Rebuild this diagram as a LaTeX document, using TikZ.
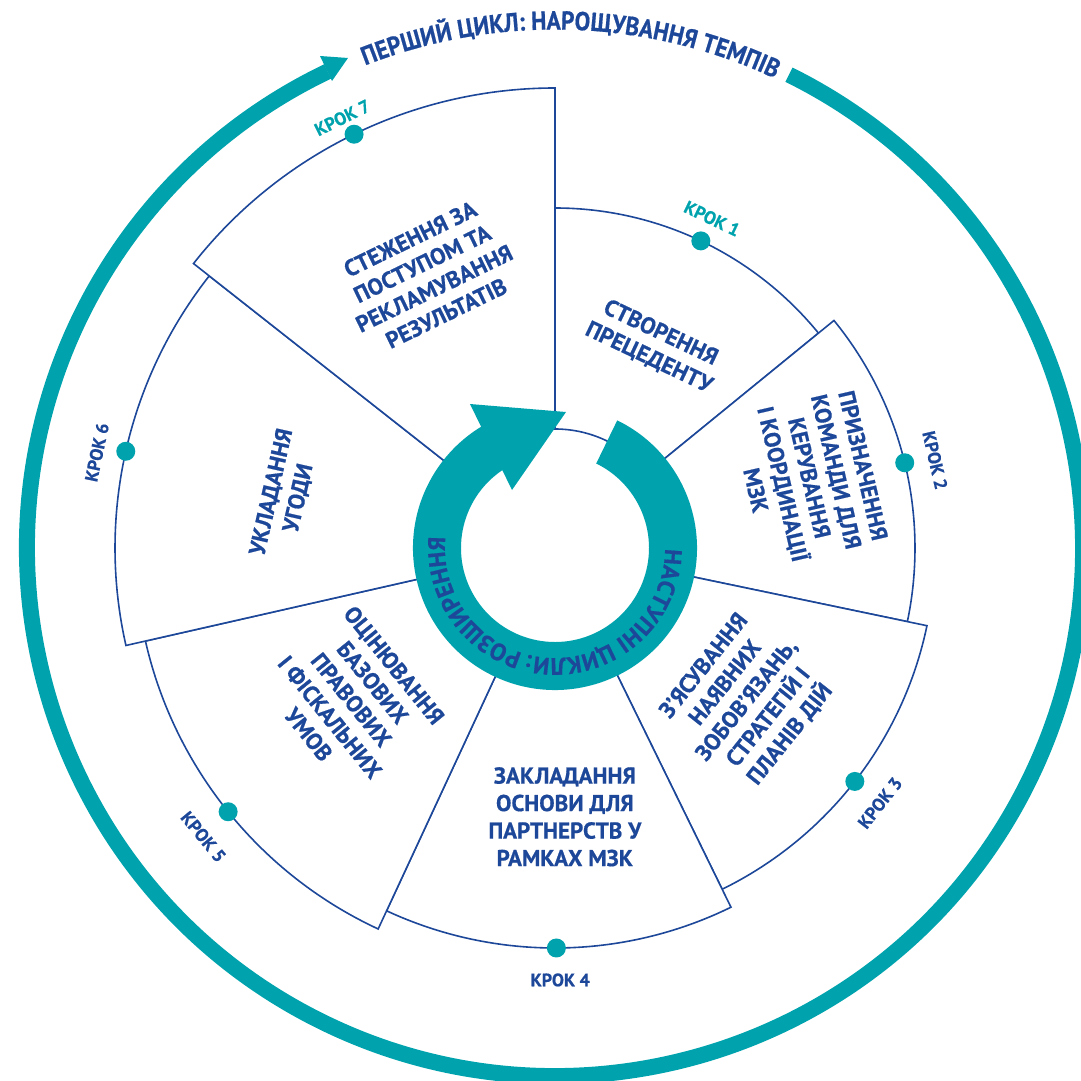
\documentclass[tikz,border=0pt]{standalone}
\usepackage{fontspec}
\setmainfont{PT Sans}[BoldFeatures={FakeBold=0.6}]
\newfontfamily\titlefamily{PT Sans}[FakeStretch=0.9, BoldFeatures={FakeBold=0.6}]
\usepackage{xcolor}
\usepackage{tikz}
\usetikzlibrary{decorations.text}
\definecolor{cycleteal}{RGB}{0,163,173}
\definecolor{stepblue}{RGB}{29,71,153}
\newcommand{\titlefont}{\titlefamily\bfseries\fontsize{26}{26}\selectfont\color{stepblue}}
\newcommand{\ringfont}{\bfseries\fontsize{24}{24}\selectfont\color{stepblue}}

\begin{document}
\begin{tikzpicture}[x=1pt, y=1pt,
    wedge/.style={draw=stepblue, line width=1.6pt, fill=white},
    task/.style={text=stepblue, font=\bfseries\fontsize{23}{27.5}\selectfont, align=center, inner sep=0pt},
    steplabel/.style={font=\bfseries\fontsize{18}{18}\selectfont, inner sep=0pt},
    stepdot/.style={fill=cycleteal}]
        \useasboundingbox (-555,-532) rectangle (526,548);
        % first cycle
        \draw[cycleteal, line width=16pt] (63.7:528) arc[start angle=63.7, end angle=-244.5, radius=528];
        \fill[cycleteal] (-235,492) -- (-207,490) -- (-223,467) -- cycle;
        \path[decorate, decoration={text along path, text align=center,
            text={|\titlefont|ПЕРШИЙ ЦИКЛ: НАРОЩУВАННЯ ТЕМПІВ}}]
            (123.2:518.5) arc[start angle=123.2, end angle=53.2, radius=518.5];
        % steps
        \draw[wedge] (39.2:119) -- (39.2:340) arc[start angle=39.2, end angle=90, radius=340] -- (90:119) arc[start angle=90, end angle=39.2, radius=119] -- cycle;
        \draw[wedge] (-11.8:119) -- (-11.8:360) arc[start angle=-11.8, end angle=39.2, radius=360] -- (39.2:119) arc[start angle=39.2, end angle=-11.8, radius=119] -- cycle;
        \draw[wedge] (-63.9:119) -- (-63.9:380) arc[start angle=-63.9, end angle=-11.8, radius=380] -- (-11.8:119) arc[start angle=-11.8, end angle=-63.9, radius=119] -- cycle;
        \draw[wedge] (-114.9:119) -- (-114.9:400) arc[start angle=-114.9, end angle=-63.9, radius=400] -- (-63.9:119) arc[start angle=-63.9, end angle=-114.9, radius=119] -- cycle;
        \draw[wedge] (-167.2:119) -- (-167.2:420) arc[start angle=-167.2, end angle=-114.9, radius=420] -- (-114.9:119) arc[start angle=-114.9, end angle=-167.2, radius=119] -- cycle;
        \draw[wedge] (141.8:119) -- (141.8:440) arc[start angle=141.8, end angle=192.8, radius=440] -- (192.8:119) arc[start angle=192.8, end angle=141.8, radius=119] -- cycle;
        \draw[wedge] (90:119) -- (90:460) arc[start angle=90, end angle=141.8, radius=460] -- (141.8:119) arc[start angle=141.8, end angle=90, radius=119] -- cycle;
        \fill[stepdot] (64.6:340) circle[radius=9.5];
        \fill[stepdot] (13.7:360) circle[radius=9.5];
        \fill[stepdot] (-37.9:380) circle[radius=9.5];
        \fill[stepdot] (-89.8:400) circle[radius=9.5];
        \fill[stepdot] (-141.1:420) circle[radius=9.5];
        \fill[stepdot] (167.3:440) circle[radius=9.5];
        \fill[stepdot] (115.9:460) circle[radius=9.5];
        \node[steplabel, text=cycleteal, rotate=-25.5] (krok1) at (64.5:365) {КРОК 1};
        \node[steplabel, text=stepblue, rotate=-77] (krok2) at (13:390) {КРОК 2};
        \node[steplabel, text=stepblue, rotate=51.9] (krok3) at (-38.1:413) {КРОК 3};
        \node[steplabel, text=stepblue, rotate=0] (krok4) at (-89.3:432) {КРОК 4};
        \node[steplabel, text=stepblue, rotate=-50.6] (krok5) at (-140.6:455) {КРОК 5};
        \node[steplabel, text=stepblue, rotate=78.2] (krok6) at (168.2:468) {КРОК 6};
        \node[steplabel, text=cycleteal, rotate=26.3] (krok7) at (116.3:480) {КРОК 7};
        \node[task, rotate=-25.4] (precedent) at (63.8:226) {СТВОРЕННЯ\\ПРЕЦЕДЕНТУ};
        \node[task, rotate=-77] (team) at (15.4:264) {ПРИЗНАЧЕННЯ\\КОМАНДИ ДЛЯ\\КЕРУВАННЯ\\І КООРДИНАЦІЇ\\МЗК};
        \node[task, rotate=51.5] (commitments) at (-38.4:245) {З’ЯСУВАННЯ\\НАЯВНИХ\\ЗОБОВ’ЯЗАНЬ,\\СТРАТЕГІЙ І\\ПЛАНІВ ДІЙ};
        \node[task] (partnership) at (-87.9:269) {ЗАКЛАДАННЯ\\ОСНОВИ ДЛЯ\\ПАРТНЕРСТВ У\\РАМКАХ МЗК};
        \node[task, rotate=-51] (conditions) at (-143.3:254) {ОЦІНЮВАННЯ\\БАЗОВИХ\\ПРАВОВИХ\\І ФІСКАЛЬНИХ\\УМОВ};
        \node[task, rotate=77.3] (agreement) at (168.9:275) {УКЛАДАННЯ\\УГОДИ};
        \node[task, rotate=25.9] (monitoring) at (115:300) {СТЕЖЕННЯ ЗА\\ПОСТУПОМ ТА\\РЕКЛАМУВАННЯ\\РЕЗУЛЬТАТІВ};
        % next cycles
        \fill[cycleteal] (64:142) arc[start angle=64, end angle=-238.65, radius=142] -- (-85,144) -- (11,136) -- (-43,58) -- (-235.9:94) arc[start angle=-235.9, end angle=64, radius=94] -- cycle;
        \path[decorate, decoration={text along path, text align=center,
            text={|\ringfont|НАСТУПНІ ЦИКЛИ: РОЗШИРЕННЯ}}]
            (60:110) arc[start angle=60, end angle=-246, radius=110];
    \end{tikzpicture}
\end{document}
